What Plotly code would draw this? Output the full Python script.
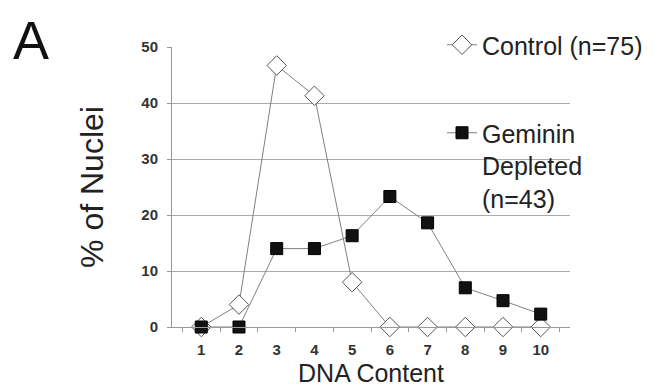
import plotly.graph_objects as go

dna_content = ["1", "2", "3", "4", "5", "6", "7", "8", "9", "10"]
control_pct = [0, 4.0, 46.7, 41.3, 8.0, 0, 0, 0, 0, 0]
geminin_pct = [0, 0, 14.0, 14.0, 16.3, 23.3, 18.6, 7.0, 4.7, 2.3]
y_ticks = [0, 10, 20, 30, 40, 50]

# The page body adds an 8px offset; the figure is sized to compensate.
OFF = 8
W, H = 660 - OFF, 388 - OFF
L = 172 - OFF
T = 47 - OFF
R = W - (570 - OFF)
B = H - (327 - OFF)
pw, ph = W - L - R, H - T - B

def px(xs):
    return (xs - OFF - L) / pw

def py(ys):
    return (H - B - (ys - OFF)) / ph

fig = go.Figure()
fig.add_trace(go.Scatter(
    x=dna_content, y=control_pct, mode="lines+markers", name="Control (n=75)",
    line=dict(color="#808080", width=1),
    marker=dict(symbol="diamond", size=15, color="white", line=dict(color="#555", width=1)),
    legend="legend", cliponaxis=False,
))
fig.add_trace(go.Scatter(
    x=dna_content, y=geminin_pct, mode="lines+markers", name="Geminin<br>Depleted<br>(n=43)",
    line=dict(color="#808080", width=1),
    marker=dict(symbol="square", size=12, color="#111", line=dict(color="#000", width=1)),
    legend="legend2", cliponaxis=False,
))

font_ax = "Liberation Sans, Arial, sans-serif"
fig.update_layout(
    width=W, height=H,
    margin=dict(l=L, r=R, t=T, b=B, autoexpand=False),
    paper_bgcolor="white", plot_bgcolor="white",
    font=dict(family=font_ax, color="#222"),
    showlegend=True,
    legend=dict(x=px(442), xanchor="left", y=py(22), yanchor="top",
                font=dict(size=25, color="#222"), bgcolor="rgba(0,0,0,0)",
                itemclick=False, valign="top"),
    legend2=dict(x=px(442), xanchor="left", y=py(110), yanchor="top",
                 font=dict(size=25, color="#222"), bgcolor="rgba(0,0,0,0)",
                 itemclick=False, valign="top"),
    xaxis=dict(
        type="category", categoryorder="array", categoryarray=dna_content,
        tickson="boundaries", ticks="outside", ticklen=4, tickcolor="#999",
        showline=True, linecolor="#999", linewidth=1, showgrid=False,
        tickfont=dict(size=15, color="#333", family=font_ax, weight="bold"),
        ticklabelstandoff=9,
        title=dict(text="DNA Content", font=dict(size=25, color="#222"), standoff=7),
    ),
    yaxis=dict(
        range=[0, 50], tickvals=y_ticks, ticks="outside", ticklen=4, tickcolor="#999",
        showline=True, linecolor="#999", linewidth=1,
        showgrid=True, gridcolor="#aaa", gridwidth=1, zeroline=False,
        tickfont=dict(size=15, color="#333", family=font_ax, weight="bold"),
        ticklabelstandoff=6,
        title=dict(text="% of Nuclei", font=dict(size=32, color="#222"), standoff=28),
    ),
    shapes=[dict(type="rect", xref="paper", yref="paper", x0=px(437), x1=1.01,
                 y0=py(205), y1=1.02, fillcolor="white", line=dict(width=0),
                 layer="between")],
    annotations=[dict(text="A", xref="paper", yref="paper", x=px(31), y=py(8),
                      xanchor="center", yanchor="top", yshift=0, showarrow=False,
                      font=dict(size=54, color="#111"))],
)

fig.write_html("out.html")
